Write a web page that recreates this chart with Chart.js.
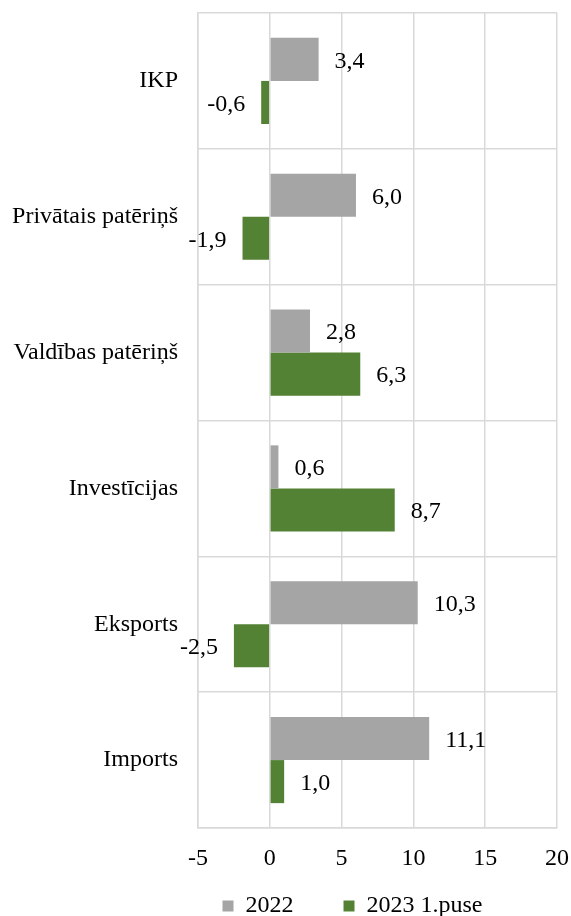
<!DOCTYPE html>
<html>
<head>
<meta charset="utf-8">
<script src="https://cdn.jsdelivr.net/npm/chart.js@4"></script>
<style>
html,body{margin:0;padding:0;background:#fff;}
#wrap{width:571px;height:916px;}
</style>
</head>
<body>
<div id="wrap"><canvas id="c" width="571" height="916"></canvas></div>
<script>
const categories = ["IKP", "Privātais patēriņš", "Valdības patēriņš", "Investīcijas", "Eksports", "Imports"];
const values2022 = [3.4, 6.0, 2.8, 0.6, 10.3, 11.1];
const values2023h1 = [-0.6, -1.9, 6.3, 8.7, -2.5, 1.0];
const seriesNames = ["2022", "2023 1.puse"];
const xTicks = [-5, 0, 5, 10, 15, 20];

const FONT = '"Liberation Serif", "Times New Roman", serif';
const FS = 24;

const labelPlugin = {
  id: 'barLabels',
  afterDatasetsDraw(chart) {
    const ctx = chart.ctx;
    ctx.save();
    ctx.font = FS + 'px ' + FONT;
    ctx.fillStyle = '#000';
    ctx.textBaseline = 'middle';
    chart.data.datasets.forEach((ds, i) => {
      const meta = chart.getDatasetMeta(i);
      meta.data.forEach((el, j) => {
        const v = ds.data[j];
        const txt = v.toFixed(1).replace('.', ',');
        if (v >= 0) {
          ctx.textAlign = 'left';
          ctx.fillText(txt, el.x + 16, el.y + 2);
        } else {
          ctx.textAlign = 'right';
          ctx.fillText(txt, el.x - 16, el.y + 2);
        }
      });
    });
    ctx.restore();
  }
};

// moves the legend box (placement only)
const legendShift = {
  id: 'legendShift',
  afterLayout(chart) {
    const lg = chart.legend;
    if (!lg) return;
    const dx = 74;
    lg.top = 844;
    lg.bottom = 916;
    lg.left += dx; lg.right += dx;
  }
};

new Chart(document.getElementById('c'), {
  type: 'bar',
  data: {
    labels: categories,
    datasets: [
      { label: seriesNames[0], data: values2022, backgroundColor: '#A5A5A5', categoryPercentage: 0.634, barPercentage: 1.0 },
      { label: seriesNames[1], data: values2023h1, backgroundColor: '#548235', categoryPercentage: 0.634, barPercentage: 1.0 }
    ]
  },
  options: {
    indexAxis: 'y',
    responsive: false,
    animation: false,
    devicePixelRatio: 1,
    layout: { padding: { top: 13, right: 14, left: 0, bottom: 0 } },
    scales: {
      x: {
        type: 'linear',
        min: xTicks[0],
        max: xTicks[xTicks.length - 1],
        afterBuildTicks(scale) { scale.ticks = xTicks.map(v => ({ value: v })); },
        afterFit(scale) { scale.height = 44; scale.paddingLeft = 0; scale.paddingRight = 0; },
        grid: { color: '#D9D9D9', lineWidth: 1.5, drawTicks: false },
        border: { color: '#D9D9D9', width: 1.5 },
        ticks: { color: '#000', font: { family: FONT, size: FS }, padding: 16 }
      },
      y: {
        afterFit(scale) { scale.width = 198; scale.paddingTop = 0; scale.paddingBottom = 0; },
        grid: { color: '#D9D9D9', lineWidth: 1.5, drawTicks: false, offset: true },
        border: { color: '#D9D9D9', width: 1.5 },
        ticks: { color: '#000', font: { family: FONT, size: FS }, padding: 20 }
      }
    },
    plugins: {
      legend: {
        position: 'bottom',
        maxHeight: 44,
        labels: {
          color: '#000',
          font: { family: FONT, size: FS },
          boxWidth: 11,
          boxHeight: 11,
          padding: 50,
          useBorderRadius: false
        }
      },
      tooltip: { enabled: false }
    }
  },
  plugins: [labelPlugin, legendShift]
});
</script>
</body>
</html>
